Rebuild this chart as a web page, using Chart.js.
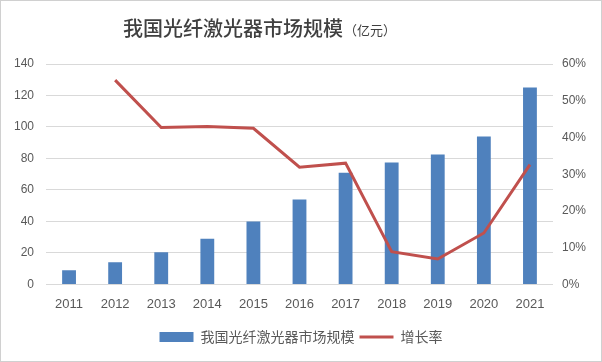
<!DOCTYPE html>
<html>
<head>
<meta charset="utf-8">
<script src="https://cdn.jsdelivr.net/npm/chart.js"></script>
<style>
  html, body { margin: 0; padding: 0; background: #fff; }
  #wrap { width: 602px; height: 362px; position: relative; }
</style>
</head>
<body>
<div id="wrap"><canvas id="chart" width="602" height="362"></canvas></div>
<script>
const years = ["2011", "2012", "2013", "2014", "2015", "2016", "2017", "2018", "2019", "2020", "2021"];
const marketSize = [9, 14, 20.5, 29, 40, 54, 71, 77.5, 82.5, 94, 125];
const growthRate = [null, 0.556, 0.427, 0.43, 0.425, 0.319, 0.33, 0.089, 0.069, 0.14, 0.326];
const leftTicks = [0, 20, 40, 60, 80, 100, 120, 140];
const rightTicks = [0, 0.1, 0.2, 0.3, 0.4, 0.5, 0.6];

const titleMain = "我国光纤激光器市场规模";
const titleUnit = "（亿元）";

const textColor = "#595959";
const gridColor = "#d9d9d9";

// title with two font sizes + outer frame
const titlePlugin = {
    id: "titleBits",
    afterDraw(chart) {
        const ctx = chart.ctx;
        ctx.save();
        ctx.strokeStyle = "#d0d0d0";
        ctx.lineWidth = 1;
        ctx.strokeRect(0.5, 0.5, chart.width - 1, chart.height - 1);

        ctx.textBaseline = "middle";
        ctx.textAlign = "left";
        ctx.fillStyle = "#404040";
        ctx.font = "500 20px 'Noto Sans CJK SC'";
        ctx.fillText(titleMain, 123, 28);
        const w = ctx.measureText(titleMain).width;
        ctx.font = "13px 'Noto Sans CJK SC'";
        ctx.fillText(titleUnit, 123 + w + 1, 30);
        ctx.restore();
    }
};

new Chart(document.getElementById("chart"), {
    data: {
        labels: years,
        datasets: [
            {
                type: "line",
                label: "增长率",
                data: growthRate,
                yAxisID: "y1",
                borderColor: "#c0504d",
                backgroundColor: "#c0504d",
                borderWidth: 3,
                pointRadius: 0,
                tension: 0,
                order: 0
            },
            {
                type: "bar",
                label: titleMain,
                data: marketSize,
                yAxisID: "y",
                backgroundColor: "#4f81bd",
                barPercentage: 0.6,
                categoryPercentage: 0.5,
                order: 1
            }
        ]
    },
    options: {
        responsive: false,
        animation: false,
        layout: { padding: { top: 64, left: 0, right: 0, bottom: 8 } },
        plugins: {
            title: { display: false },
            tooltip: { enabled: false },
            legend: {
                position: "bottom",
                labels: {
                    color: textColor,
                    font: { family: "'Noto Sans CJK SC'", size: 14 },
                    usePointStyle: true,
                    pointStyleWidth: 34,
                    boxHeight: 10,
                    padding: 5,
                    generateLabels(chart) {
                        return [
                            { text: titleMain, fillStyle: "#4f81bd", strokeStyle: "#4f81bd", lineWidth: 0, pointStyle: "rect", datasetIndex: 1, fontColor: textColor },
                            { text: "增长率", fillStyle: "#c0504d", strokeStyle: "#c0504d", lineWidth: 3, pointStyle: "line", datasetIndex: 0, fontColor: textColor }
                        ];
                    }
                }
            }
        },
        scales: {
            x: {
                grid: { display: false },
                border: { display: false },
                afterFit(scale) { scale.height += 9; },
                ticks: {
                    color: textColor,
                    font: { family: "'Liberation Sans'", size: 13 },
                    padding: 4,
                    maxRotation: 0
                }
            },
            y: {
                position: "left",
                min: 0,
                max: 140,
                afterBuildTicks(scale) { scale.ticks = leftTicks.map(v => ({ value: v })); },
                afterFit(scale) { scale.width = 46; },
                grid: { color: gridColor, drawTicks: false },
                border: { display: false },
                ticks: {
                    color: textColor,
                    font: { family: "'Liberation Sans'", size: 12 },
                    padding: 12
                }
            },
            y1: {
                position: "right",
                min: 0,
                max: 0.6,
                afterBuildTicks(scale) { scale.ticks = rightTicks.map(v => ({ value: v })); },
                afterFit(scale) { scale.width = 49; },
                grid: { display: false, drawTicks: false },
                border: { display: false },
                ticks: {
                    color: textColor,
                    font: { family: "'Liberation Sans'", size: 12 },
                    padding: 9,
                    callback: v => Math.round(v * 100) + "%"
                }
            }
        }
    },
    plugins: [titlePlugin]
});
</script>
</body>
</html>
